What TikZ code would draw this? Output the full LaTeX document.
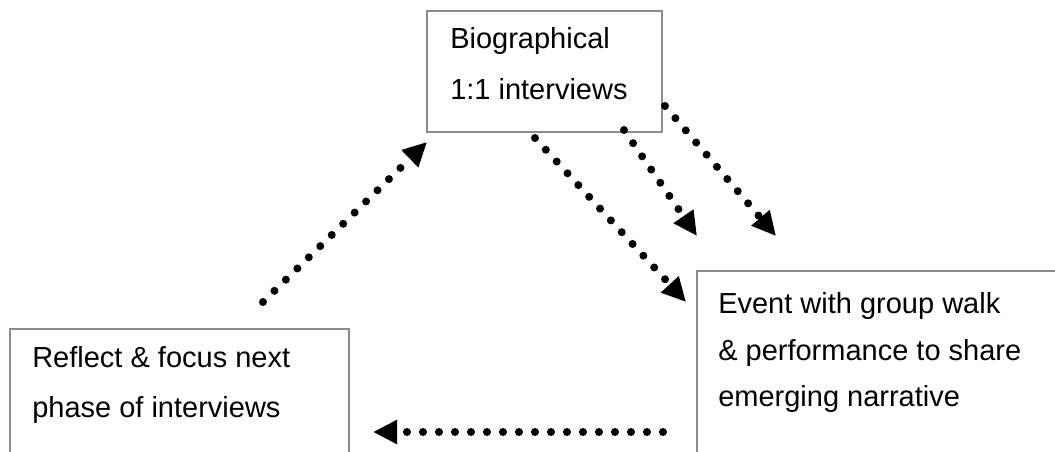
\documentclass[tikz,border=0pt]{standalone}
\usepackage{fontspec}
\setmainfont{Liberation Sans}
\usetikzlibrary{arrows.meta}
\begin{document}
\begin{tikzpicture}[x=0.75pt,y=-0.75pt,
  box/.style={draw=boxgray,line width=1.5pt},
  lbl/.style={anchor=base west,inner sep=0pt,font=\fontsize{21.75pt}{26pt}\selectfont},
  dotarrow/.style={line width=6pt,line cap=round,dash pattern=on 0pt off 12pt,
    -{Triangle[length=18pt,width=17pt]}}]
\definecolor{boxgray}{HTML}{8C8C8C}
\useasboundingbox (0,0) rectangle (1055,452);
\clip (0,0) rectangle (1055,452);
% boxes
\draw[box] (427,11) rectangle (662,132);
\node[inner sep=0pt] (top) at (544.5,71.5) {};
\draw[box] (10,329) rectangle (349,480);
\node[inner sep=0pt] (left) at (179.5,400) {};
\draw[box] (697,271) rectangle (1080,480);
\node[inner sep=0pt] (right) at (880,370) {};
% texts
\node[lbl] (t1) at (450,49) {Biographical};
\node[lbl] (t2) at (450,100) {1:1 interviews};
\node[lbl] (l1) at (32,367) {Reflect \& focus next};
\node[lbl] (l2) at (32,417) {phase of interviews};
\node[lbl] (r1) at (718,313) {Event with group walk};
\node[lbl] (r2) at (718,360) {\& performance to share};
\node[lbl] (r3) at (718,406) {emerging narrative};
% connector ends
\coordinate (a1s) at (263,302);
\coordinate (a1e) at (427,142);
\coordinate (a2s) at (535,138);
\coordinate (a2e) at (686,302);
\coordinate (a3s) at (624,130);
\coordinate (a3e) at (697,236);
\coordinate (a4s) at (665,106);
\coordinate (a4e) at (776,236);
\coordinate (a5s) at (663,432);
\coordinate (a5e) at (373,432);
\draw[dotarrow] (a1s) -- (a1e);
\draw[dotarrow] (a2s) -- (a2e);
\draw[dotarrow] (a3s) -- (a3e);
\draw[dotarrow] (a4s) -- (a4e);
\draw[dotarrow] (a5s) -- (a5e);
\end{tikzpicture}
\end{document}
